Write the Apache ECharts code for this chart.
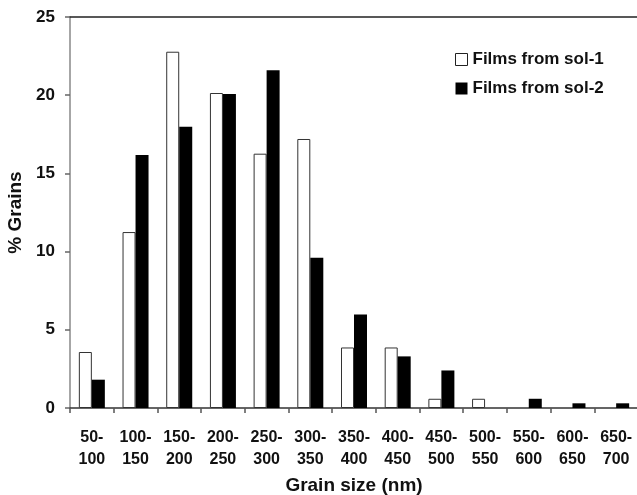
<!DOCTYPE html>
<html>
<head>
<meta charset="utf-8">
<script src="https://cdn.jsdelivr.net/npm/echarts@6/dist/echarts.min.js"></script>
<style>html,body{margin:0;padding:0;background:#fff;}#c{width:637px;height:495px;}</style>
</head>
<body>
<div id="c"></div>
<script>
const categories = ['50-\n100','100-\n150','150-\n200','200-\n250','250-\n300','300-\n350','350-\n400','400-\n450','450-\n500','500-\n550','550-\n600','600-\n650','650-\n700'];
const sol1 = [3.58, 11.25, 22.78, 20.14, 16.26, 17.2, 3.87, 3.87, 0.59, 0.59, 0, 0, 0];
const sol2 = [1.81, 16.18, 17.99, 20.08, 21.59, 9.61, 5.98, 3.3, 2.4, 0, 0.59, 0.3, 0.3];
const yTicks = [0, 5, 10, 15, 20, 25];

const FONT = '"Liberation Sans", Arial, sans-serif';
const hideZero = arr => arr.map(v => (v === 0 ? null : v));
const chart = echarts.init(document.getElementById('c'));
chart.setOption({
  backgroundColor: '#fff',
  animation: false,
  textStyle: { fontFamily: FONT },
  grid: { left: 70, top: 17, width: 568, height: 391, containLabel: false, outerBoundsMode: 'none' },
  legend: {
    orient: 'vertical', left: 450, top: 46, itemWidth: 12, itemHeight: 12, itemGap: 12,
    icon: 'rect',
    textStyle: { fontFamily: FONT, fontSize: 17, fontWeight: 'bold', color: '#111' },
    data: [
      { name: 'Films from sol-1', itemStyle: { color: '#fff', borderColor: '#222', borderWidth: 1 } },
      { name: 'Films from sol-2', itemStyle: { color: '#000' } }
    ]
  },
  xAxis: [{
    type: 'category', data: categories, position: 'bottom',
    axisLine: { lineStyle: { color: '#333', width: 1.5 } },
    axisTick: { show: true, length: 5, lineStyle: { color: '#555', width: 1.5 } },
    axisLabel: { interval: 0, fontFamily: FONT, fontSize: 16, fontWeight: 'bold', color: '#111', margin: 19, lineHeight: 22 },
    name: 'Grain size (nm)', nameLocation: 'middle', nameGap: 66,
    nameTextStyle: { fontFamily: FONT, fontSize: 19, fontWeight: 'bold', color: '#111' }
  }, {
    type: 'category', data: categories, position: 'top',
    axisLine: { show: true, lineStyle: { color: '#222', width: 1.5 } },
    axisTick: { show: false }, axisLabel: { show: false }
  }],
  yAxis: {
    type: 'value', min: 0, max: 25, interval: 5,
    axisLine: { show: true, lineStyle: { color: '#888', width: 1.5 } },
    axisTick: { show: true, length: 5, lineStyle: { color: '#666', width: 1.5 } },
    splitLine: { show: false },
    axisLabel: { fontFamily: FONT, fontSize: 17, fontWeight: 'bold', color: '#111', margin: 15,
      formatter: v => yTicks.includes(v) ? String(v) : '' },
    name: '% Grains', nameLocation: 'middle', nameGap: 39, nameRotate: 90,
    nameTextStyle: { fontFamily: FONT, fontSize: 19, fontWeight: 'bold', color: '#111' }
  },
  series: [
    { name: 'Films from sol-1', type: 'bar', data: hideZero(sol1), barWidth: 13, barGap: '0%',
      itemStyle: { color: '#fff', borderColor: '#333', borderWidth: 1 } },
    { name: 'Films from sol-2', type: 'bar', data: hideZero(sol2), barWidth: 13, barGap: '0%',
      itemStyle: { color: '#000' } }
  ]
});
</script>
</body>
</html>
